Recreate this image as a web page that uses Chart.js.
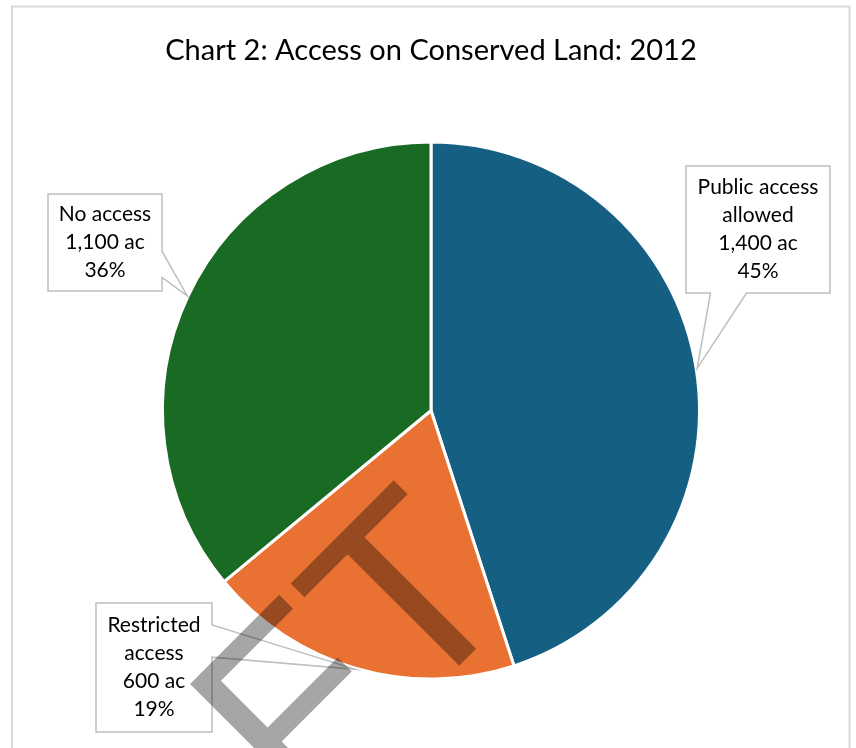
<!DOCTYPE html>
<html>
<head>
<meta charset="utf-8">
<script src="https://cdn.jsdelivr.net/npm/chart.js@4"></script>
<style>
  html, body { margin: 0; padding: 0; background: #fff; }
  canvas { display: block; }
</style>
</head>
<body>
<canvas id="accessChart" width="856" height="748"></canvas>
<script>
const categories = [['Public access', 'allowed'], ['Restricted', 'access'], ['No access']];
const acres = [1400, 600, 1100];
const percents = [45, 19, 36];
const sliceColors = ['#156082', '#E97132', '#196B24'];

// callout boxes, one per slice; the wedge points at the middle of the slice's outer edge
const callouts = [
  { x: 686, y: 166, w: 144, h: 127, side: 'bottom', from: 0.17, to: 0.42 },
  { x: 96, y: 603, w: 116, h: 129, side: 'right', from: 0.17, to: 0.42 },
  { x: 48, y: 194, w: 114, h: 97, side: 'right', from: 0.59, to: 0.86 },
];

const FONT = 'Lato, "Open Sans", sans-serif';

function calloutPath(ctx, b, tip) {
  const { x, y, w, h } = b;
  ctx.beginPath();
  ctx.moveTo(x, y);
  ctx.lineTo(x + w, y);
  if (b.side === 'right') {
    ctx.lineTo(x + w, y + h * b.from);
    ctx.lineTo(tip.x, tip.y);
    ctx.lineTo(x + w, y + h * b.to);
  }
  ctx.lineTo(x + w, y + h);
  if (b.side === 'bottom') {
    ctx.lineTo(x + w * b.to, y + h);
    ctx.lineTo(tip.x, tip.y);
    ctx.lineTo(x + w * b.from, y + h);
  }
  ctx.lineTo(x, y + h);
  ctx.closePath();
}

const frame = {
  id: 'frame',
  beforeDraw(chart) {
    const ctx = chart.ctx;
    ctx.save();
    ctx.fillStyle = '#fff';
    ctx.fillRect(0, 0, chart.width, chart.height);
    ctx.strokeStyle = '#d9d9d9';
    ctx.lineWidth = 2;
    ctx.strokeRect(12, 6.5, 837.5, 800);
    ctx.restore();
  },
};

const calloutLabels = {
  id: 'calloutLabels',
  afterDatasetsDraw(chart) {
    const ctx = chart.ctx;
    const arcs = chart.getDatasetMeta(0).data;
    ctx.save();
    arcs.forEach((arc, i) => {
      const { x, y, startAngle, endAngle, outerRadius } = arc.getProps(['x', 'y', 'startAngle', 'endAngle', 'outerRadius'], true);
      const mid = (startAngle + endAngle) / 2;
      const tip = { x: x + Math.cos(mid) * (outerRadius + 1), y: y + Math.sin(mid) * (outerRadius + 1) };
      const box = callouts[i];
      calloutPath(ctx, box, tip);
      ctx.fillStyle = '#fff';
      ctx.fill();
      ctx.strokeStyle = '#bfbfbf';
      ctx.lineWidth = 1.5;
      ctx.stroke();

      const lines = [...categories[i], acres[i].toLocaleString('en-US') + ' ac', percents[i] + '%'];
      const lh = 28;
      const cx = box.x + box.w / 2;
      const cy = box.y + box.h / 2;
      ctx.fillStyle = '#000';
      ctx.font = '21px ' + FONT;
      ctx.textAlign = 'center';
      ctx.textBaseline = 'middle';
      lines.forEach((t, k) => {
        ctx.fillText(t, cx, cy + (k - (lines.length - 1) / 2) * lh);
      });
    });
    ctx.restore();
  },
};

const watermark = {
  id: 'watermark',
  afterDraw(chart) {
    const ctx = chart.ctx;
    ctx.save();
    ctx.translate(412, 713);
    ctx.rotate(-Math.PI / 4);
    ctx.font = '258px "Liberation Sans", Arial, sans-serif';
    ctx.fillStyle = 'rgba(0,0,0,0.35)';
    ctx.textBaseline = 'alphabetic';
    ctx.textAlign = 'right';
    ctx.fillText('DRAF', 0, 0);
    ctx.textAlign = 'left';
    ctx.fillText('T', 0, 0);
    ctx.restore();
  },
};

new Chart(document.getElementById('accessChart'), {
  type: 'pie',
  data: {
    labels: categories,
    datasets: [{
      data: percents,
      backgroundColor: sliceColors,
      borderColor: '#fff',
      borderWidth: 3,
    }],
  },
  options: {
    responsive: false,
    animation: false,
    devicePixelRatio: 1,
    layout: { padding: { left: 161, right: 155, top: 0, bottom: 67 } },
    plugins: {
      legend: { display: false },
      tooltip: { enabled: false },
      title: {
        display: true,
        text: 'Chart 2: Access on Conserved Land: 2012',
        color: '#000',
        font: { family: FONT, size: 29, weight: 'normal' },
        padding: { top: 33, bottom: 72.2 },
      },
    },
  },
  plugins: [frame, calloutLabels, watermark],
});
</script>
</body>
</html>
